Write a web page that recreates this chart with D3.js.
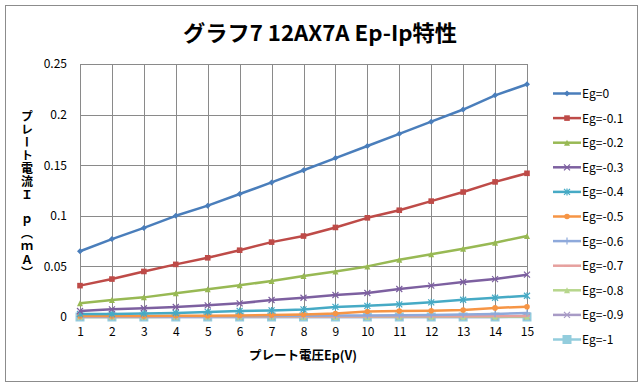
<!DOCTYPE html>
<html><head><meta charset="utf-8">
<script src="https://cdn.jsdelivr.net/npm/d3@7"></script>
<style>
body{margin:0;background:#fff}
text{font-family:"Noto Sans CJK JP","Noto Sans",sans-serif}
</style></head>
<body><svg id="c" width="643" height="388"></svg>
<script>
const categories=[1,2,3,4,5,6,7,8,9,10,11,12,13,14,15];
const seriesNames=["Eg=0","Eg=-0.1","Eg=-0.2","Eg=-0.3","Eg=-0.4","Eg=-0.5","Eg=-0.6","Eg=-0.7","Eg=-0.8","Eg=-0.9","Eg=-1"];
const eg0 =[0.065,0.077,0.088,0.100,0.110,0.1215,0.133,0.145,0.157,0.169,0.181,0.193,0.205,0.219,0.230];
const eg01=[0.031,0.0375,0.045,0.052,0.0585,0.066,0.074,0.080,0.0885,0.098,0.1055,0.1145,0.1235,0.1335,0.142];
const eg02=[0.0135,0.0168,0.0194,0.0234,0.0274,0.0313,0.0356,0.0405,0.045,0.050,0.0566,0.062,0.0675,0.0734,0.080];
const eg03=[0.0059,0.0076,0.0086,0.0099,0.0115,0.0135,0.0168,0.019,0.0217,0.0237,0.0277,0.031,0.0346,0.0375,0.0418];
const eg04=[0.003,0.003,0.0035,0.004,0.005,0.006,0.0065,0.0075,0.010,0.011,0.0125,0.0145,0.017,0.019,0.021];
const eg05=[0.001,0.001,0.001,0.0012,0.0013,0.0015,0.002,0.0025,0.0035,0.0055,0.006,0.0062,0.0069,0.009,0.0102];
const eg06=[0.0005,0.0005,0.0005,0.0006,0.0007,0.0008,0.001,0.0012,0.0014,0.0016,0.0018,0.002,0.0024,0.003,0.004];
const eg07=[0.0002,0.0002,0.0003,0.0003,0.0004,0.0004,0.0005,0.0005,0.0006,0.0006,0.0007,0.0008,0.0008,0.0009,0.001];
const eg08=[0.0001,0.0001,0.0001,0.0002,0.0002,0.0002,0.0003,0.0003,0.0003,0.0003,0.0004,0.0004,0.0004,0.0005,0.0005];
const eg09=[0,0,0,0,0,0,0.0001,0.0001,0.0001,0.0001,0.0001,0.0001,0.0001,0.0001,0.0002];
const eg10=[0,0,0,0,0,0,0,0,0,0,0,0,0,0,0];
const seriesValues=[eg0,eg01,eg02,eg03,eg04,eg05,eg06,eg07,eg08,eg09,eg10];
const yTicks=[0,0.05,0.1,0.15,0.2,0.25];
const titleText="グラフ7 12AX7A  Ep-Ip特性";
const xTitle="プレート電圧Ep(V)";
const yTitle="プレート電流Ｉ ｐ（ｍＡ）";
const colors=["#4A7EBB","#BE4B48","#98B954","#7D60A0","#46AAC5","#F69545","#8EA9DB","#E6A09E","#B7D68C","#A89BC6","#93CDDD"];
const markerTypes=["diamond","square","triangle","x","star","circle","plus","dash","triangle","x","bigsquare"];

const svg=d3.select("#c");
const L=80,R=527,T=64,B=317;
const x=d3.scalePoint().domain(categories).range([L,R]);
const y=d3.scaleLinear().domain([0,0.25]).range([B,T]);

svg.append("rect").attr("x",5.5).attr("y",5.5).attr("width",632).attr("height",376)
  .attr("fill","#fff").attr("stroke","#8c8c8c").attr("stroke-width",1);

svg.append("text").attr("x",320).attr("y",41).attr("text-anchor","middle")
  .attr("font-size",21.5).attr("font-weight","bold").attr("fill","#000")
  .attr("textLength",274).attr("lengthAdjust","spacingAndGlyphs")
  .text(titleText);

const g=svg.append("g");
g.selectAll("line.h").data(yTicks).join("line")
  .attr("x1",L).attr("x2",R).attr("y1",d=>Math.round(y(d))+0.5).attr("y2",d=>Math.round(y(d))+0.5)
  .attr("stroke","#8a8a8a").attr("stroke-width",1);
g.selectAll("line.v").data(categories).join("line")
  .attr("x1",d=>Math.round(x(d))+0.5).attr("x2",d=>Math.round(x(d))+0.5).attr("y1",T).attr("y2",B)
  .attr("stroke","#8a8a8a").attr("stroke-width",1);

const ya=svg.append("g").attr("transform",`translate(${L},0)`)
  .call(d3.axisLeft(y).tickValues(yTicks).tickSize(0).tickPadding(13).tickFormat(d=>String(d)));
ya.select(".domain").remove();
ya.selectAll("text").attr("font-size",12).attr("fill","#000").attr("font-family",'"Noto Sans","Noto Sans CJK JP",sans-serif');

const xa=svg.append("g").attr("transform",`translate(0,${B})`)
  .call(d3.axisBottom(x).tickSize(0).tickPadding(10));
xa.select(".domain").remove();
xa.selectAll("text").attr("font-size",12).attr("fill","#000").attr("font-family",'"Noto Sans","Noto Sans CJK JP",sans-serif');

svg.append("text").attr("x",303).attr("y",360).attr("text-anchor","middle")
  .attr("font-size",12.5).attr("font-weight","bold").attr("fill","#000")
  .text(xTitle);

svg.append("text").attr("x",27).attr("y",195).attr("text-anchor","middle")
  .attr("font-size",12).attr("font-weight","bold").attr("fill","#000")
  .style("writing-mode","vertical-rl").style("text-orientation","upright")
  .style("letter-spacing","1px")
  .text(yTitle);

function marker(sel,type,color){
  const s=3;
  if(type==="diamond") sel.append("path").attr("d",`M0,${-s}L${s},0L0,${s}L${-s},0Z`).attr("fill",color);
  else if(type==="square") sel.append("rect").attr("x",-2.8).attr("y",-2.8).attr("width",5.6).attr("height",5.6).attr("fill",color);
  else if(type==="bigsquare") sel.append("rect").attr("x",-4.5).attr("y",-4.5).attr("width",9).attr("height",9).attr("fill",color);
  else if(type==="triangle") sel.append("path").attr("d",`M0,${-s}L${s},${s}L${-s},${s}Z`).attr("fill",color);
  else if(type==="circle") sel.append("circle").attr("r",2.8).attr("fill",color);
  else if(type==="x") sel.append("path").attr("d",`M-3,-3L3,3M-3,3L3,-3`).attr("stroke",color).attr("stroke-width",1.2);
  else if(type==="star") sel.append("path").attr("d",`M-3,-3L3,3M-3,3L3,-3M0,-3.5L0,3.5`).attr("stroke",color).attr("stroke-width",1.2);
  else if(type==="plus") sel.append("path").attr("d",`M-3.5,0L3.5,0M0,-3.5L0,3.5`).attr("stroke",color).attr("stroke-width",1.2);
  else if(type==="dash") sel.append("path").attr("d",`M-3,0L3,0`).attr("stroke",color).attr("stroke-width",1.5);
}

const line=d3.line().x((d,i)=>x(categories[i])).y(d=>y(d));
for(let k=seriesValues.length-1;k>=0;k--){
  const vals=seriesValues[k];
  const sg=svg.append("g");
  sg.append("path").attr("d",line(vals)).attr("fill","none").attr("stroke",colors[k])
    .attr("stroke-width",2.5).attr("stroke-linejoin","round");
  sg.selectAll("g.m").data(vals).join("g").attr("transform",(d,i)=>`translate(${x(categories[i])},${y(d)})`)
    .each(function(){marker(d3.select(this),markerTypes[k],colors[k]);});
}

const lg=svg.append("g");
seriesNames.forEach((name,i)=>{
  const ly=93.5+i*24.6;
  const e=lg.append("g");
  e.append("line").attr("x1",553).attr("x2",581).attr("y1",ly).attr("y2",ly).attr("stroke",colors[i]).attr("stroke-width",2.5);
  const m=e.append("g").attr("transform",`translate(567,${ly})`);
  marker(m,markerTypes[i],colors[i]);
  e.append("text").attr("x",582).attr("y",ly+4.5).attr("font-size",12).attr("fill","#000")
    .attr("font-family",'"Noto Sans","Noto Sans CJK JP",sans-serif').text(name);
});
</script></body></html>
